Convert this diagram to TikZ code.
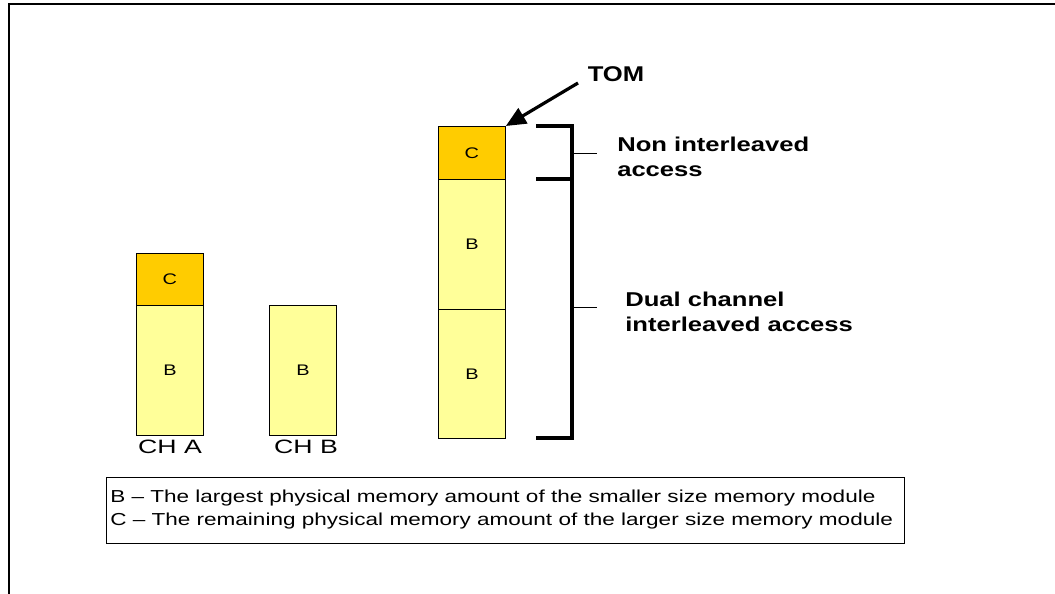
\documentclass[tikz,border=0pt]{standalone}
\usepackage{fontspec}
\setmainfont{Liberation Sans}
\usetikzlibrary{arrows.meta}
\definecolor{cyel}{HTML}{FFFF99}
\definecolor{corg}{HTML}{FFCC00}
\newcommand\hsc[2]{\scalebox{#1}[1]{#2}}
\tikzset{
  cell/.style={draw=black, line width=0.6pt, inner sep=0pt, anchor=north west, minimum width=50.25pt, font=\fontsize{11.5pt}{13pt}\selectfont},
  bfill/.style={cell, fill=cyel},
  cfill/.style={cell, fill=corg},
  bracket/.style={line width=3pt},
  tick/.style={line width=0.6pt},
  lbl/.style={font=\bfseries\fontsize{15pt}{18.75pt}\selectfont, anchor=north west, inner sep=0pt},
  chl/.style={font=\fontsize{14.5pt}{16pt}\selectfont, inner sep=0pt}
}
\begin{document}
\begin{tikzpicture}[x=0.75pt,y=-0.75pt]
\useasboundingbox (0,0) rectangle (1055,593);
% frame
\draw[line width=1.5pt] (1055,4) -- (9,4) -- (9,600);
% CH A
\node[cfill, minimum height=39pt] (ac) at (136,253) {\hsc{1.3}{C}};
\node[bfill, minimum height=97.5pt] (ab) at (136,305) {\hsc{1.3}{B}};
\node[chl] (cha) at (170,447) {\hsc{1.38}{CH A}};
% CH B
\node[bfill, minimum height=97.5pt] (bb) at (269,305) {\hsc{1.3}{B}};
\node[chl] (chb) at (306,447) {\hsc{1.38}{CH B}};
% combined
\node[cfill, minimum height=39.75pt] (tc) at (438,126) {\hsc{1.3}{C}};
\node[bfill, minimum height=97.5pt] (tb1) at (438,179) {\hsc{1.3}{B}};
\node[bfill, minimum height=96.75pt] (tb2) at (438,309) {\hsc{1.3}{B}};
% TOM
\node[font=\bfseries\fontsize{16pt}{18pt}\selectfont, inner sep=0pt] (tom) at (616,74) {\hsc{1.2}{TOM}};
\coordinate (tomstart) at (578,83);
\draw[line width=2.4pt, -{Triangle[length=15pt,width=13pt]}] (tomstart) -- (tc.north east);
% brackets
\coordinate (b1) at (536,126);
\coordinate (b2) at (572,126);
\coordinate (b3) at (572,438);
\coordinate (b4) at (536,438);
\coordinate (m1) at (536,179);
\coordinate (m2) at (572,179);
\draw[bracket] (b1) -- (b2) -- (b3) -- (b4);
\draw[bracket] (m1) -- (m2);
\coordinate (t1a) at (572,153);
\coordinate (t1b) at (597,153);
\coordinate (t2a) at (572,307);
\coordinate (t2b) at (597,307);
\draw[tick] (t1a) -- (t1b);
\draw[tick] (t2a) -- (t2b);
\node[lbl] (non) at (617,134) {\hsc{1.28}{\begin{tabular}{@{}l@{}}Non interleaved\\access\end{tabular}}};
\node[lbl] (dual) at (625,289) {\hsc{1.28}{\begin{tabular}{@{}l@{}}Dual channel\\interleaved access\end{tabular}}};
% legend
\node[draw=black, line width=0.8pt, anchor=north west, minimum width=598.5pt, minimum height=49.5pt, inner sep=0pt] (leg) at (106,477) {};
\node[anchor=west, inner sep=0pt, font=\fontsize{13pt}{17.25pt}\selectfont] (legt) at (110,509) {\hsc{1.3}{\begin{tabular}{@{}l@{}}B -- The largest physical memory amount of the smaller size memory module\\C -- The remaining physical memory amount of the larger size memory module\end{tabular}}};
\end{tikzpicture}
\end{document}
